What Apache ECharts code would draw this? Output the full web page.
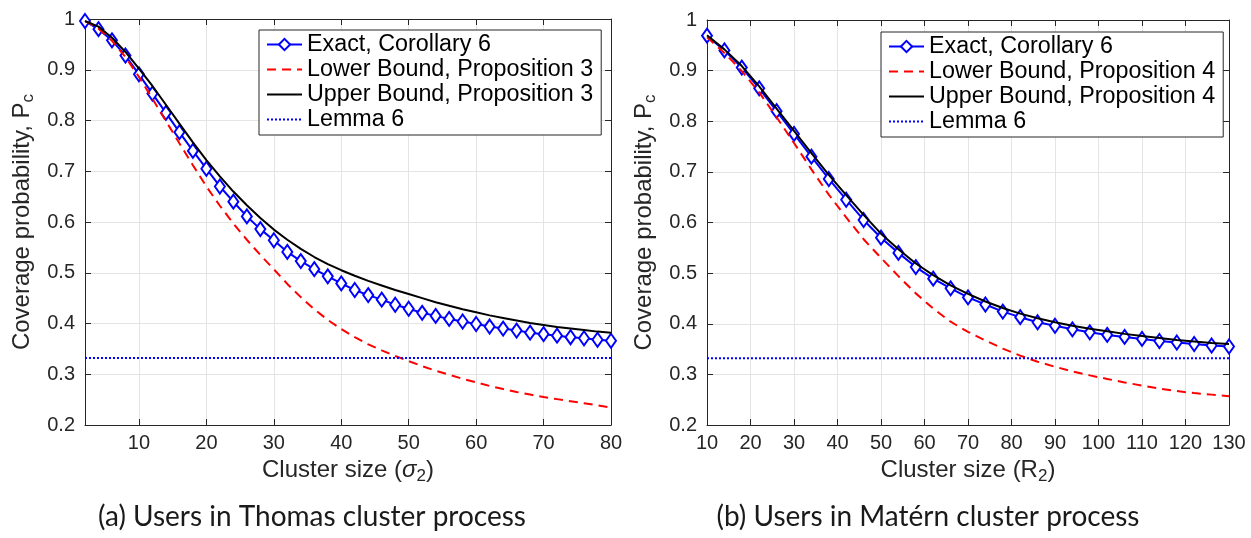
<!DOCTYPE html>
<html>
<head>
<meta charset="utf-8">
<script src="https://cdn.jsdelivr.net/npm/echarts@6/dist/echarts.min.js"></script>
<style>
html,body{margin:0;padding:0;background:#fff;}
#chart{width:1251px;height:538px;}
</style>
</head>
<body>
<div id="chart"></div>
<script>
// ---- Data ----
const xThomas = [2,4,6,8,10,12,14,16,18,20,22,24,26,28,30,32,34,36,38,40,42,44,46,48,50,52,54,56,58,60,62,64,66,68,70,72,74,76,78,80];
const exactThomas = [0.996,0.980,0.958,0.928,0.891,0.853,0.815,0.777,0.740,0.705,0.670,0.640,0.611,0.586,0.564,0.541,0.523,0.507,0.493,0.479,0.466,0.456,0.447,0.437,0.429,0.421,0.415,0.409,0.404,0.399,0.394,0.390,0.386,0.382,0.379,0.376,0.373,0.371,0.368,0.366];
const lowerThomas = [0.996,0.981,0.957,0.925,0.886,0.843,0.799,0.755,0.712,0.670,0.632,0.597,0.565,0.535,0.507,0.478,0.452,0.428,0.407,0.389,0.373,0.359,0.347,0.336,0.326,0.316,0.307,0.299,0.291,0.284,0.277,0.271,0.265,0.260,0.255,0.251,0.247,0.243,0.239,0.234];
const upperThomas = [0.996,0.985,0.963,0.935,0.902,0.868,0.831,0.794,0.757,0.722,0.690,0.660,0.633,0.608,0.585,0.565,0.547,0.531,0.517,0.505,0.494,0.484,0.475,0.466,0.458,0.450,0.442,0.435,0.428,0.422,0.416,0.411,0.406,0.401,0.397,0.393,0.390,0.387,0.384,0.382];
const lemmaThomasX = [2, 80];
const lemmaThomas = [0.332, 0.332];

const xMatern = [10,14,18,22,26,30,34,38,42,46,50,54,58,62,66,70,74,78,82,86,90,94,98,102,106,110,114,118,122,126,130];
const exactMatern = [0.969,0.940,0.906,0.865,0.820,0.775,0.730,0.686,0.645,0.605,0.570,0.540,0.512,0.489,0.470,0.452,0.438,0.424,0.413,0.403,0.396,0.389,0.383,0.378,0.374,0.370,0.366,0.363,0.360,0.357,0.355];
const lowerMatern = [0.966,0.935,0.899,0.857,0.808,0.757,0.705,0.655,0.610,0.567,0.530,0.494,0.460,0.430,0.404,0.384,0.367,0.351,0.337,0.325,0.315,0.306,0.298,0.291,0.284,0.278,0.272,0.267,0.263,0.260,0.257];
const upperMatern = [0.970,0.942,0.909,0.869,0.825,0.781,0.737,0.694,0.654,0.615,0.578,0.547,0.519,0.496,0.476,0.459,0.444,0.431,0.420,0.411,0.403,0.396,0.390,0.385,0.380,0.376,0.372,0.368,0.365,0.362,0.360];
const lemmaMaternX = [10, 130];
const lemmaMatern = [0.332, 0.332];

const xTicksThomas = [10,20,30,40,50,60,70,80];
const xTicksMatern = [10,20,30,40,50,60,70,80,90,100,110,120,130];
const yTicks = [0.2,0.3,0.4,0.5,0.6,0.7,0.8,0.9,1];

const namesA = ['Exact, Corollary 6','Lower Bound, Proposition 3','Upper Bound, Proposition 3','Lemma 6'];
const namesB = ['Exact, Corollary 6','Lower Bound, Proposition 4','Upper Bound, Proposition 4','Lemma 6'];
const captionA = '(a) Users in Thomas cluster process';
const captionB = '(b) Users in Matérn cluster process';

// ---- Styling / building ----
const AX = '#262626';
const FONT = 'Liberation Sans';
const zip = (xs, ys) => xs.map((x, i) => [x, ys[i]]);

function yFmt(v) { return Math.abs(v - 1) < 1e-9 ? '1' : v.toFixed(1); }

const nameRich = {
  m: { fontSize: 24, fontFamily: FONT, color: AX, lineHeight: 30 },
  i: { fontSize: 24, fontFamily: FONT, color: AX, fontStyle: 'italic', lineHeight: 30 },
  s: { fontSize: 17, fontFamily: FONT, color: AX, verticalAlign: 'bottom', lineHeight: 20 }
};

function xAxes(gridIndex, min, max, ticks, nameStr) {
  const tickDef = { show: true, inside: true, length: 6, lineStyle: { color: AX, width: 1 }, customValues: ticks };
  return [
    {
      gridIndex, type: 'value', min, max, position: 'bottom',
      axisLine: { show: true, onZero: false, lineStyle: { color: AX, width: 1 } },
      axisTick: tickDef,
      axisLabel: { show: true, customValues: ticks, margin: 8, color: AX, fontSize: 20, fontFamily: FONT },
      splitLine: { show: true, lineStyle: { color: '#e4e4e4', width: 1 } },
      name: nameStr, nameLocation: 'middle', nameGap: 25,
      nameTextStyle: { rich: nameRich }
    },
    {
      gridIndex, type: 'value', min, max, position: 'top',
      axisLine: { show: true, onZero: false, lineStyle: { color: AX, width: 1 } },
      axisTick: tickDef,
      axisLabel: { show: false, customValues: ticks },
      splitLine: { show: false }
    }
  ];
}

function yAxes(gridIndex) {
  const tickDef = { show: true, inside: true, length: 6, lineStyle: { color: AX, width: 1 } };
  return [
    {
      gridIndex, type: 'value', min: 0.2, max: 1, interval: 0.1, position: 'left',
      axisLine: { show: true, onZero: false, lineStyle: { color: AX, width: 1 } },
      axisTick: tickDef,
      axisLabel: { show: true, margin: 10, color: AX, fontSize: 20, fontFamily: FONT, formatter: yFmt },
      splitLine: { show: true, lineStyle: { color: '#e4e4e4', width: 1 } },
      name: '{m|Coverage probability, P}{s|c}', nameLocation: 'middle', nameGap: 48, nameRotate: 90,
      nameTextStyle: { rich: nameRich }
    },
    {
      gridIndex, type: 'value', min: 0.2, max: 1, interval: 0.1, position: 'right',
      axisLine: { show: true, onZero: false, lineStyle: { color: AX, width: 1 } },
      axisTick: tickDef,
      axisLabel: { show: false },
      splitLine: { show: false }
    }
  ];
}

function seriesFor(xi, yi, names, xs, exact, lower, upper, lx, ly) {
  return [
    { name: names[0], type: 'line', xAxisIndex: xi, yAxisIndex: yi, data: zip(xs, exact),
      symbol: 'diamond', symbolSize: [10, 14], showSymbol: true,
      itemStyle: { color: '#ffffff', borderColor: '#0000ff', borderWidth: 2 },
      lineStyle: { color: '#0000ff', width: 2 }, z: 2 },
    { name: names[1], type: 'line', xAxisIndex: xi, yAxisIndex: yi, data: zip(xs, lower),
      symbol: 'none', itemStyle: { color: '#ff0000' },
      lineStyle: { color: '#ff0000', width: 2, type: [9, 6] }, z: 3 },
    { name: names[2], type: 'line', xAxisIndex: xi, yAxisIndex: yi, data: zip(xs, upper),
      symbol: 'none', itemStyle: { color: '#000000' },
      lineStyle: { color: '#000000', width: 2 }, z: 4 },
    { name: names[3], type: 'line', xAxisIndex: xi, yAxisIndex: yi, data: zip(lx, ly),
      symbol: 'none', itemStyle: { color: '#0000ff' },
      lineStyle: { color: '#0000ff', width: 2, type: [2, 2] }, z: 5 }
  ];
}

function legendFor(names, left, top) {
  return {
    data: names.map((n, i) => i === 0 ? { name: n } : { name: n, itemStyle: { opacity: 0 } }),
    orient: 'vertical', left, top,
    itemWidth: 35, itemHeight: 14, itemGap: 0,
    padding: [2, 8, 3, 7],
    backgroundColor: '#ffffff', borderColor: AX, borderWidth: 1, borderRadius: 0,
    selectedMode: false,
    textStyle: { fontSize: 23.3, fontFamily: FONT, color: '#000', lineHeight: 25 }
  };
}

const chart = echarts.init(document.getElementById('chart'), null, { renderer: 'canvas' });
chart.setOption({
  animation: false,
  backgroundColor: '#ffffff',
  grid: [
    { left: 85, top: 19, width: 526, height: 406 },
    { left: 707, top: 20, width: 522, height: 405 }
  ],
  xAxis: [
    ...xAxes(0, 2, 80, xTicksThomas, '{m|Cluster size (}{i|σ}{s|2}{m|)}'),
    ...xAxes(1, 10, 130, xTicksMatern, '{m|Cluster size (R}{s|2}{m|)}')
  ],
  yAxis: [...yAxes(0), ...yAxes(1)],
  legend: [legendFor(namesA, 259, 30), legendFor(namesB, 881, 32)],
  series: [
    ...seriesFor(0, 0, namesA, xThomas, exactThomas, lowerThomas, upperThomas, lemmaThomasX, lemmaThomas),
    ...seriesFor(2, 2, namesB, xMatern, exactMatern, lowerMatern, upperMatern, lemmaMaternX, lemmaMatern)
  ],
  graphic: [
    { type: 'text', x: 312, y: 517, style: { text: captionA, fontSize: 28, fontFamily: 'Lato', fill: '#1a1a1a', align: 'center', verticalAlign: 'middle' } },
    { type: 'text', x: 928, y: 517, style: { text: captionB, fontSize: 28, fontFamily: 'Lato', fill: '#1a1a1a', align: 'center', verticalAlign: 'middle' } }
  ]
});
</script>
</body>
</html>
